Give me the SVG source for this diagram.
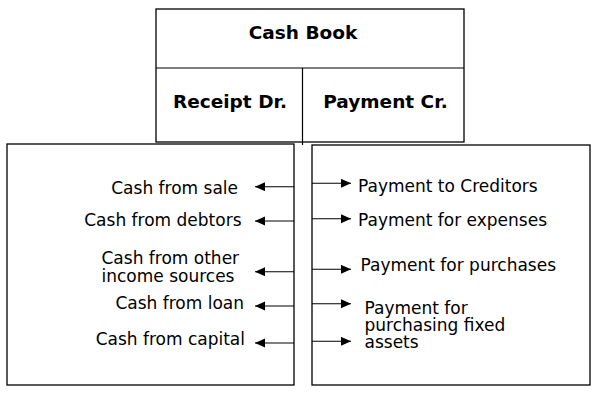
<svg xmlns="http://www.w3.org/2000/svg" width="603" height="397" viewBox="0 0 603 397">
<style>
.box{fill:#fff;stroke:#000;stroke-width:1.3}
.ln{fill:none;stroke:#000;stroke-width:1.2}
.t{font-family:"DejaVu Sans",Verdana,sans-serif;font-size:17px;fill:#000}
.b{font-family:"DejaVu Sans",Verdana,sans-serif;font-size:18.5px;font-weight:bold;fill:#000;text-anchor:middle}
.e{text-anchor:end}
.c{stroke:#000;stroke-width:1.1;fill:none;marker-end:url(#ah)}
</style>
<defs>
<marker id="ah" markerUnits="userSpaceOnUse" markerWidth="11" markerHeight="10" refX="10" refY="4.5" orient="auto">
<path d="M0,0 L10,4.5 L0,9 Z" fill="#000"/>
</marker>
</defs>
<rect width="603" height="397" fill="#fff"/>
<g id="cashbook">
<rect class="box" x="156" y="9" width="308" height="133"/>
<line class="ln" x1="156" y1="68" x2="464" y2="68"/>
<line class="ln" x1="302.5" y1="68" x2="302.5" y2="145"/>
<text class="b" x="303" y="39">Cash Book</text>
<text class="b" x="230" y="108">Receipt Dr.</text>
<text class="b" x="385.5" y="108">Payment Cr.</text>
</g>
<g id="receipts">
<rect class="box" x="7" y="144" width="287" height="241"/>
<text class="t e" x="238" y="193.5">Cash from sale</text>
<text class="t e" x="241.5" y="225.5">Cash from debtors</text>
<text class="t" x="101.5" y="264">Cash from other</text>
<text class="t" x="101.5" y="281.5">income sources</text>
<text class="t e" x="244" y="308.5">Cash from loan</text>
<text class="t e" x="245" y="345">Cash from capital</text>
</g>
<g id="payments">
<rect class="box" x="312" y="145" width="278" height="240"/>
<text class="t" x="358" y="191.5">Payment to Creditors</text>
<text class="t" x="358" y="225.5">Payment for expenses</text>
<text class="t" x="360.5" y="271">Payment for purchases</text>
<text class="t" x="364.5" y="314">Payment for</text>
<text class="t" x="364.5" y="331">purchasing fixed</text>
<text class="t" x="364.5" y="348">assets</text>
</g>
<g id="connectors">
<line class="c" x1="294" y1="186.7" x2="255" y2="186.7"/>
<line class="c" x1="294" y1="221" x2="255" y2="221"/>
<line class="c" x1="294" y1="271.7" x2="255" y2="271.7"/>
<line class="c" x1="294" y1="306" x2="255" y2="306"/>
<line class="c" x1="294" y1="343" x2="255" y2="343"/>
<line class="c" x1="312" y1="183.3" x2="351" y2="183.3"/>
<line class="c" x1="312" y1="218.7" x2="351" y2="218.7"/>
<line class="c" x1="312" y1="269.3" x2="351" y2="269.3"/>
<line class="c" x1="312" y1="303.7" x2="351" y2="303.7"/>
<line class="c" x1="312" y1="341.3" x2="351" y2="341.3"/>
</g>
</svg>
